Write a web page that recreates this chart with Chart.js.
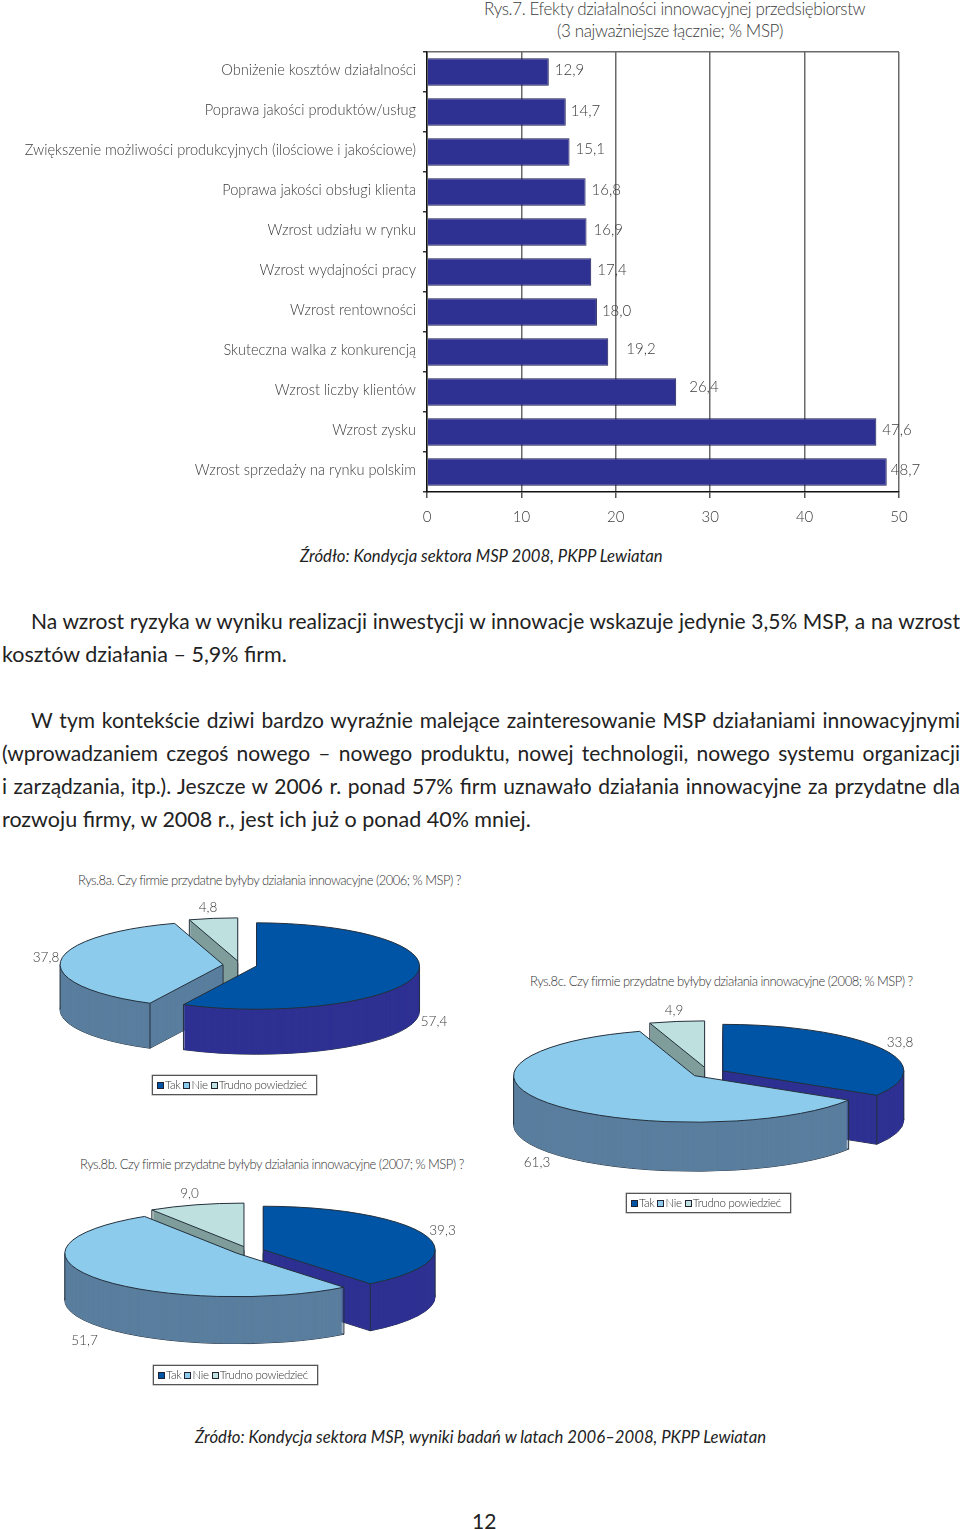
<!DOCTYPE html>
<html lang="pl"><head><meta charset="utf-8">
<script src="https://cdn.jsdelivr.net/npm/chart.js@4"></script>
<style>
html,body{margin:0;padding:0;background:#fff;}
body{position:relative;width:960px;height:1529px;overflow:hidden;font-family:Lato,sans-serif;color:#222;}
canvas{position:absolute;}
.t{position:absolute;white-space:nowrap;transform:translateY(-50%);}
.title{font-size:17px;letter-spacing:-.38px;font-weight:300;color:#3c3c3c;}
.src{font-size:16.7px;font-style:italic;color:#222;}
.p{position:absolute;left:2px;width:958px;font-size:21.5px;line-height:33px;white-space:nowrap;color:#222;transform:translateY(-50%);}
.j{font-size:21px;text-align:justify;text-align-last:justify;white-space:normal;}
.sub{font-size:13px;letter-spacing:-.52px;font-weight:300;color:#333;}
.leg{position:absolute;width:159px;height:18px;padding-left:4px;border:1px solid #555;box-shadow:0 0 0 .5px #999;background:#fff;font-size:11.5px;letter-spacing:-.3px;font-weight:300;color:#333;line-height:18px;white-space:nowrap;z-index:3;}
.leg i{display:inline-block;width:5px;height:5px;border:1px solid #223;margin:0 1px 0 0;vertical-align:0;}
.leg span{margin-right:3px;}
</style></head><body>
<div class="t title" style="left:484px;top:8px">Rys.7. Efekty działalności innowacyjnej przedsiębiorstw</div>
<div class="t title" style="left:557px;top:30px">(3 najważniejsze łącznie; % MSP)</div>
<canvas id="bars" width="960" height="500" style="left:0;top:40px"></canvas>
<div class="t src" style="left:300px;top:556px">Źródło: Kondycja sektora MSP 2008, PKPP Lewiatan</div>

<div class="p j" style="top:620px;padding-left:29px;width:929px">Na wzrost ryzyka w wyniku realizacji inwestycji w innowacje wskazuje jedynie 3,5% MSP, a na wzrost</div>
<div class="p" style="top:654px">kosztów działania – 5,9% firm.</div>
<div class="p j" style="top:719px;padding-left:29px;width:929px">W tym kontekście dziwi bardzo wyraźnie malejące zainteresowanie MSP działaniami innowacyjnymi</div>
<div class="p j" style="top:752px">(wprowadzaniem czegoś nowego – nowego produktu, nowej technologii, nowego systemu organizacji</div>
<div class="p j" style="top:785px">i zarządzania, itp.). Jeszcze w 2006 r. ponad 57% firm uznawało działania innowacyjne za przydatne dla</div>
<div class="p" style="top:819px">rozwoju firmy, w 2008 r., jest ich już o ponad 40% mniej.</div>

<div class="t sub" style="left:78px;top:880px">Rys.8a. Czy firmie przydatne byłyby działania innowacyjne (2006; % MSP) ?</div>
<div class="t sub" style="left:530px;top:981px">Rys.8c. Czy firmie przydatne byłyby działania innowacyjne (2008; % MSP) ?</div>
<div class="t sub" style="left:80px;top:1164px">Rys.8b. Czy firmie przydatne byłyby działania innowacyjne (2007; % MSP) ?</div>
<canvas id="pieA" width="460" height="240" style="left:10px;top:845px"></canvas>
<canvas id="pieC" width="460" height="240" style="left:478px;top:953px"></canvas>
<canvas id="pieB" width="460" height="240" style="left:18.5px;top:1131px"></canvas>
<div class="leg" id="legA" style="left:152px;top:1075px"></div>
<div class="leg" id="legC" style="left:626px;top:1193px"></div>
<div class="leg" id="legB" style="left:153px;top:1365px"></div>
<div class="t src" style="left:195px;top:1437px">Źródło: Kondycja sektora MSP, wyniki badań w latach 2006–2008, PKPP Lewiatan</div>
<div class="t" style="left:472px;top:1520px;font-size:21px">12</div>
<script>
const barCategories = ["Obniżenie kosztów działalności","Poprawa jakości produktów/usług","Zwiększenie możliwości produkcyjnych (ilościowe i jakościowe)","Poprawa jakości obsługi klienta","Wzrost udziału w rynku","Wzrost wydajności pracy","Wzrost rentowności","Skuteczna walka z konkurencją","Wzrost liczby klientów","Wzrost zysku","Wzrost sprzedaży na rynku polskim"];
const barValues = [12.9,14.7,15.1,16.8,16.9,17.4,18.0,19.2,26.4,47.6,48.7];
const pieLabels = ["Tak","Nie","Trudno powiedzieć"];
const pie2006 = [57.4,37.8,4.8];
const pie2007 = [39.3,51.7,9.0];
const pie2008 = [33.8,61.3,4.9];

const fmt = v => v.toFixed(1).replace('.',',');
const FONT = 'Lato';
const INK = '#3c3c3c';

const barLabelGap = [6,5,6,6,7,6,5,18,13,6,4];
const barLabelRise = [-2,-1,-3,-2,-2,-2,-1,-3,-5,-2,-2];
new Chart(document.getElementById('bars'),{
  type:'bar',
  data:{labels:barCategories,datasets:[{data:barValues,backgroundColor:'#2E3192',borderColor:'#1c1c55',borderWidth:1,barPercentage:.69,categoryPercentage:1}]},
  options:{indexAxis:'y',responsive:false,animation:false,
    layout:{autoPadding:false,padding:{top:12,right:61,left:0,bottom:0}},
    plugins:{legend:{display:false},tooltip:{enabled:false}},
    scales:{
      x:{min:0,max:50,position:'bottom',
        afterFit:s=>{s.height=48;},
        grid:{color:'#6a6a6a',lineWidth:1.5,tickLength:6,tickColor:'#555'},
        border:{color:'#111',width:1.5},
        ticks:{stepSize:10,padding:10,font:{family:FONT,size:15,weight:'300'},color:INK,maxRotation:0}},
      y:{position:'left',
        afterFit:s=>{s.width=427;s.paddingTop=0;s.paddingBottom=0;},
        grid:{color:c=>c.index===0?'#6a6a6a':'transparent',lineWidth:1.5,tickLength:4,tickColor:'#333'},
        border:{color:'#111',width:1.5},
        ticks:{padding:7,labelOffset:-2,autoSkip:false,font:{family:FONT,size:14.6,weight:'300'},color:INK}}
    }},
  plugins:[{id:'barValues',afterDatasetsDraw(ch){
    const c=ch.ctx;c.save();c.font='300 15px '+FONT;c.fillStyle=INK;c.textAlign='left';c.textBaseline='middle';
    ch.getDatasetMeta(0).data.forEach((b,i)=>c.fillText(fmt(barValues[i]),b.x+barLabelGap[i],b.y+barLabelRise[i]));
    c.restore();}}]
});

const SIDE=['#2E3192','#5A7E9E','#7F9D9B'];
const TOP=['#0054A6','#8DCBEC','#BEE0DF'];
const EDGE='#24303c';
function pie3d(id,values,cfg){
  const plugin={id:'pie3d',beforeDatasetsDraw(ch){
    const c=ch.ctx,k=cfg.squash,D=cfg.depth;
    const arcs=ch.getDatasetMeta(0).data.map((a,i)=>{
      const p=a.getProps(['x','y','startAngle','endAngle','outerRadius']);
      const mid=(p.startAngle+p.endAngle)/2,d=cfg.explode[i];
      return {i,mid,s:p.startAngle,e:p.endAngle,R:p.outerRadius,x:p.x+Math.cos(mid)*d,y:p.y+Math.sin(mid)*d*k};
    }).sort((a,b)=>Math.sin(a.mid)-Math.sin(b.mid));
    const path=(a,dy)=>{c.beginPath();c.save();c.translate(a.x,a.y+dy);c.scale(1,k);c.moveTo(0,0);c.arc(0,0,a.R,a.s,a.e);c.closePath();c.restore();};
    const inWedge=(a,px,py)=>{const dx=px-a.x,dy=(py-a.y)/k;if(Math.hypot(dx,dy)>a.R)return false;
      let t=Math.atan2(dy,dx);while(t<a.s)t+=Math.PI*2;return t<=a.e;};
    c.save();c.lineWidth=1;c.strokeStyle=EDGE;c.lineJoin='round';
    arcs.forEach(a=>{
      path(a,D);c.stroke();
      c.fillStyle=SIDE[a.i];
      for(let d=D;d>=1;d--){path(a,d);c.fill();}
      const pts=[[a.x,a.y],[a.x+Math.cos(a.s)*a.R,a.y+Math.sin(a.s)*a.R*k],[a.x+Math.cos(a.e)*a.R,a.y+Math.sin(a.e)*a.R*k]];
      for(let m=-1;m<=3;m++){const t=m*Math.PI;if(t>a.s&&t<a.e)pts.push([a.x+Math.cos(t)*a.R,a.y]);}
      pts.forEach(([px,py])=>{if(!inWedge(a,px,py+2)){c.beginPath();c.moveTo(px,py);c.lineTo(px,py+D);c.stroke();}});
      path(a,0);c.fillStyle=TOP[a.i];c.fill();c.stroke();
    });
    c.restore();
    return false;
  },afterDraw(ch){
    const c=ch.ctx,a0=ch.getDatasetMeta(0).data[0];
    c.save();c.font='300 13.5px '+FONT;c.fillStyle=INK;c.textAlign='center';c.textBaseline='middle';
    values.forEach((v,i)=>c.fillText(fmt(v),a0.x+cfg.labelAt[i][0],a0.y+cfg.labelAt[i][1]));
    c.restore();
  }};
  new Chart(document.getElementById(id),{type:'pie',
    data:{labels:pieLabels,datasets:[{data:values,backgroundColor:TOP,borderWidth:0,radius:cfg.radius}]},
    options:{responsive:false,animation:false,radius:cfg.radius,layout:{padding:0},
      plugins:{legend:{display:false},tooltip:{enabled:false}}},
    plugins:[plugin]});
}
pie3d('pieA',pie2006,{radius:163,squash:.265,depth:45,explode:[17,17,15],labelAt:[[194,57],[-194,-7],[-32,-57]]});
pie3d('pieB',pie2007,{radius:172,squash:.253,depth:47,explode:[15,15,18],labelAt:[[193.5,-20],[-164.5,90],[-59.5,-57]]});
pie3d('pieC',pie2008,{radius:181,squash:.257,depth:49,explode:[17,17,22],labelAt:[[192,-30],[-171,90],[-34,-62]]});
['legA','legB','legC'].forEach(id=>{
  document.getElementById(id).innerHTML=pieLabels.map((l,i)=>`<i style="background:${TOP[i]}"></i><span>${l}</span>`).join('');
});
</script>
</body></html>
